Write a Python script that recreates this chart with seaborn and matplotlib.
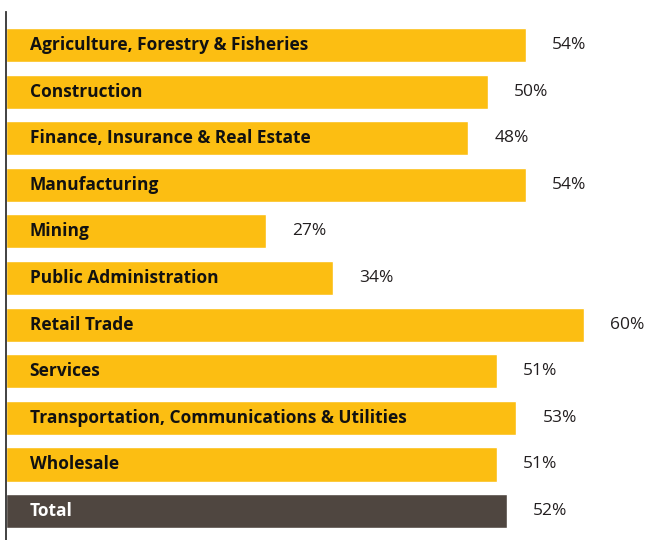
import matplotlib
matplotlib.use("Agg")
import matplotlib.pyplot as plt
import seaborn as sns
import pandas as pd

categories = [
    "Agriculture, Forestry & Fisheries",
    "Construction",
    "Finance, Insurance & Real Estate",
    "Manufacturing",
    "Mining",
    "Public Administration",
    "Retail Trade",
    "Services",
    "Transportation, Communications & Utilities",
    "Wholesale",
    "Total",
]
values = [54, 50, 48, 54, 27, 34, 60, 51, 53, 51, 52]

YELLOW = "#FCBE12"
DARK = "#4F4640"
colors = [DARK if c == "Total" else YELLOW for c in categories]

df = pd.DataFrame({"sector": categories, "pct": values})

sns.set_style("white")
plt.rcParams["font.family"] = ["Open Sans", "DejaVu Sans"]

W, H = 651, 540
fig = plt.figure(figsize=(W / 100, H / 100), dpi=100)
ax = fig.add_axes([5.5 / W, 0, (W - 5.5) / W, (H - 12) / H])

sns.barplot(data=df, y="sector", x="pct", hue="sector", palette=colors,
            orient="h", width=0.73, legend=False, ax=ax, saturation=1)

px_per_unit = 9.64
ax.set_xlim(0, (W - 5.5) / px_per_unit)
ax.set_ylim(10.62, -0.708)

for i, (c, v) in enumerate(zip(categories, values)):
    ax.text(2.5, i, c, ha="left", va="center", fontsize=12.5, fontweight="bold",
            color="white" if c == "Total" else "#111111")
    ax.text(v + 2.7, i, f"{v}%", ha="left", va="center", fontsize=12.5,
            fontweight="normal", color="#231F20")

ax.set_xlabel("")
ax.set_ylabel("")
ax.set_xticks([])
ax.set_yticks([])
for s in ["top", "right", "bottom"]:
    ax.spines[s].set_visible(False)
ax.spines["left"].set_color("#333333")
ax.spines["left"].set_linewidth(1.3)

fig.savefig("out.png", dpi=100)
